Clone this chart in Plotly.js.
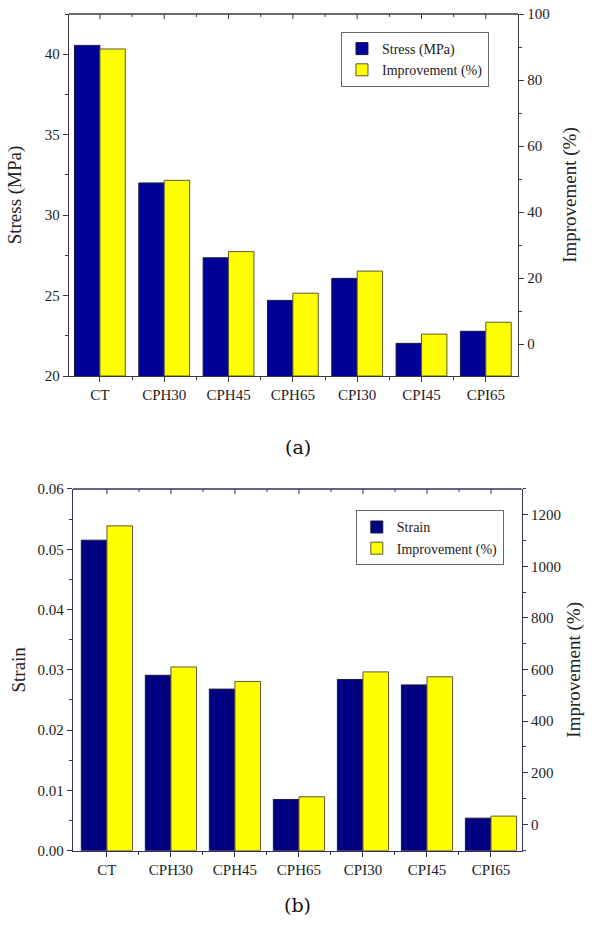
<!DOCTYPE html>
<html>
<head>
<meta charset="utf-8">
<script src="https://cdn.plot.ly/plotly-3.0.1.min.js"></script>
<style>html,body{margin:0;padding:0;background:#fff;}#chart{width:593px;height:928px;}</style>
</head>
<body>
<div id="chart"></div>
<script>
// ---- data ----
const categories = ['CT', 'CPH30', 'CPH45', 'CPH65', 'CPI30', 'CPI45', 'CPI65'];
const stressMPa = [40.55, 32.0, 27.35, 24.7, 26.07, 22.03, 22.78];
const stressImprovement = [89.4, 49.6, 28.0, 15.4, 22.1, 3.0, 6.6];
const strainValues = [0.0515, 0.0291, 0.0268, 0.0085, 0.0284, 0.0275, 0.0054];
const strainImprovement = [1157, 610, 554, 107, 591, 572, 32];

// ---- styling / axis settings ----
const idx = categories.map((c, i) => i);
const minorX = idx.slice(1).map(i => i - 0.5);
const Y2MIN = -9.7, Y4MIN = -102;
const BLUE_A = '#000099', BLUE_B = '#000080', YELLOW = '#ffff00';
const serif = 'Liberation Serif, Times New Roman, serif';
const tickFont = {family: serif, size: 15, color: '#222'};
const titleFont = {family: serif, size: 19, color: '#222'};
const axA = '#3a3a3a', axB = '#33335a';
const BW = 0.395;
const DOM_XA = [0.1164, 0.8735], DOM_YA = [0.5948, 0.9849];
const DOM_XB = [0.1231, 0.8798], DOM_YB = [0.0833, 0.4731];

const traces = [
  {type: 'bar', name: 'Stress (MPa)', x: idx, y: stressMPa, xaxis: 'x', yaxis: 'y',
   width: BW, offset: -BW, marker: {color: BLUE_A, line: {color: '#1a1a40', width: 1}},
   legend: 'legend'},
  {type: 'bar', name: 'Improvement (%)', x: idx, y: stressImprovement.map(v => v - Y2MIN), base: Y2MIN,
   xaxis: 'x', yaxis: 'y2', width: BW, offset: 0,
   marker: {color: YELLOW, line: {color: '#5a5a30', width: 1}}, legend: 'legend'},
  {type: 'bar', name: 'Strain', x: idx, y: strainValues, xaxis: 'x2', yaxis: 'y3',
   width: 0.4, offset: -0.4, marker: {color: BLUE_B, line: {color: '#1a1a40', width: 1}},
   legend: 'legend2'},
  {type: 'bar', name: 'Improvement (%)', x: idx, y: strainImprovement.map(v => v - Y4MIN), base: Y4MIN,
   xaxis: 'x2', yaxis: 'y4', width: 0.4, offset: 0,
   marker: {color: YELLOW, line: {color: '#5a5a30', width: 1}}, legend: 'legend2'}
];

function xAx(domain, anchor, range, col) {
  return {
    domain: domain, anchor: anchor, range: range,
    tickmode: 'array', tickvals: idx, ticktext: categories,
    ticks: 'outside', ticklen: 5, tickwidth: 1, tickcolor: col,
    showline: true, linecolor: col, linewidth: 1.3,
    showgrid: false, zeroline: false, tickfont: tickFont, fixedrange: true,
    minor: {tickmode: 'array', tickvals: minorX, ticks: 'outside', ticklen: 3, tickcolor: col}
  };
}
function yAx(domain, anchor, range, dtick, minorD, col, right, overlay, title, fmt) {
  const a = {
    domain: domain, anchor: anchor, range: range, tickmode: 'linear', tick0: 0, dtick: dtick,
    ticks: 'outside', ticklen: 5, tickwidth: 1, tickcolor: col,
    showline: true, linecolor: col, linewidth: 1.3, showgrid: false, zeroline: false,
    tickfont: tickFont, fixedrange: true,
    minor: {tick0: 0, dtick: minorD, ticks: 'outside', ticklen: 3, tickcolor: col},
    title: {text: title, font: titleFont}
  };
  if (fmt) a.tickformat = fmt;
  if (right) { a.side = 'right'; a.overlaying = overlay; }
  return a;
}

// top frame line (paper coords from the axis domains) with inward ticks at the category positions
function topFrame(xr, domX, domY, col) {
  const s = [{type: 'line', xref: 'paper', yref: 'paper', x0: domX[0], x1: domX[1], y0: domY[1], y1: domY[1],
              line: {color: col, width: 1.5}, layer: 'above'}];
  idx.forEach(v => s.push({type: 'line', xref: xr, yref: 'paper', ysizemode: 'pixel', yanchor: domY[1],
                          x0: v, x1: v, y0: 0, y1: -5, line: {color: col, width: 1}, layer: 'above'}));
  minorX.forEach(v => s.push({type: 'line', xref: xr, yref: 'paper', ysizemode: 'pixel', yanchor: domY[1],
                             x0: v, x1: v, y0: 0, y1: -3, line: {color: col, width: 1}, layer: 'above'}));
  return s;
}

const layout = {
  width: 593, height: 928,
  margin: {l: 0, r: 0, t: 0, b: 0},
  paper_bgcolor: '#fff', plot_bgcolor: 'rgba(0,0,0,0)',
  font: {family: serif, color: '#222'},
  showlegend: true,
  xaxis: xAx(DOM_XA, 'y', [-0.48, 6.5], axA),
  yaxis: yAx(DOM_YA, 'x', [20, 42.5], 5, 2.5, axA, false, null, 'Stress (MPa)'),
  yaxis2: yAx(DOM_YA, 'x', [Y2MIN, 100], 20, 10, axA, true, 'y', 'Improvement (%)'),
  xaxis2: xAx(DOM_XB, 'y3', [-0.53, 6.48], axB),
  yaxis3: yAx(DOM_YB, 'x2', [0, 0.06], 0.01, 0.005, axB, false, null, 'Strain', '.2f'),
  yaxis4: yAx(DOM_YB, 'x2', [Y4MIN, 1300], 200, 100, axB, true, 'y3', 'Improvement (%)'),
  shapes: topFrame('x', DOM_XA, DOM_YA, axA).concat(topFrame('x2', DOM_XB, DOM_YB, axB)),
  legend: {x: 0.575, y: 0.9655, xanchor: 'left', yanchor: 'top', bgcolor: '#fff',
           bordercolor: '#666', borderwidth: 1, font: {family: serif, size: 14, color: '#222'},
           tracegroupgap: 0, itemwidth: 30},
  legend2: {x: 0.600, y: 0.450, xanchor: 'left', yanchor: 'top', bgcolor: '#fff',
            bordercolor: '#666', borderwidth: 1, font: {family: serif, size: 14, color: '#222'},
            tracegroupgap: 0, itemwidth: 30},
  annotations: [
    {text: '(a)', xref: 'paper', yref: 'paper', x: 0.5025, y: 0.518, xanchor: 'center', yanchor: 'middle',
     showarrow: false, font: {family: 'DejaVu Serif, serif', size: 19, color: '#111'}},
    {text: '(b)', xref: 'paper', yref: 'paper', x: 0.5025, y: 0.0248, xanchor: 'center', yanchor: 'middle',
     showarrow: false, font: {family: 'DejaVu Serif, serif', size: 19, color: '#111'}}
  ]
};

Plotly.newPlot('chart', traces, layout, {displayModeBar: false, staticPlot: true});
</script>
</body>
</html>
